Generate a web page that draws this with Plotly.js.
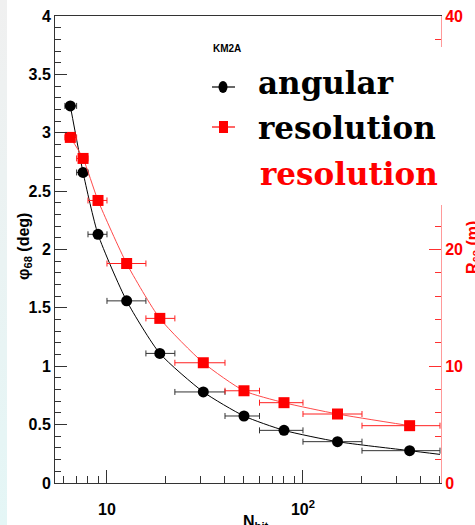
<!DOCTYPE html>
<html>
<head>
<meta charset="utf-8">
<script src="https://cdn.plot.ly/plotly-3.0.1.min.js"></script>
<style>
  html, body { margin: 0; padding: 0; width: 475px; height: 525px; overflow: hidden; background: #ffffff; }
  #strip { position: absolute; left: 0; top: 0; width: 7px; height: 525px;
           background: linear-gradient(#f0f0f0, #e4f6f6); }
  #chart { position: absolute; left: 0; top: 0; width: 475px; height: 525px; }
</style>
</head>
<body>
<div id="strip"></div>
<div id="chart"></div>
<script>
// ---- data ----
const nHit      = [6.5, 7.55, 9.0, 12.6, 18.6, 31, 50, 80, 150, 350];
const binLow    = [6.1, 7.0, 8.0, 10.0, 15.8, 22.2, 40, 60, 100, 200];
const binHigh   = [7.0, 8.0, 10.0, 15.8, 22.2, 40, 60, 100, 200, 500];
const phi68     = [3.23, 2.66, 2.13, 1.56, 1.11, 0.78, 0.574, 0.451, 0.354, 0.277];
const r68       = [29.6, 27.8, 24.2, 18.8, 14.1, 10.3, 7.9, 6.88, 5.91, 4.91];
const fitTailX  = [500];
const fitTailY  = [0.245];
const xTickVals = [10, 100];
const xTickText = ['10', '10<sup>2</sup>'];
const xMinorVals = [6, 7, 8, 9, 20, 30, 40, 50, 60, 70, 80, 90, 200, 300, 400, 500];

const errPlus  = binHigh.map((h, i) => h - nHit[i]);
const errMinus = binLow.map((l, i) => nHit[i] - l);

// layout geometry helpers (pixel -> paper) for decorations
const L = 55, R = 441, T = 16, B = 483;
const px = v => (v - L) / (R - L);
const py = v => (B - v) / (B - T);

const narrow = 'Liberation Sans Narrow, Liberation Sans, Arial, sans-serif';
const serif = 'DejaVu Serif, serif';

const traces = [
  { x: nHit.concat(fitTailX), y: phi68.concat(fitTailY), mode: 'lines', type: 'scatter',
    line: { color: '#000000', width: 1, shape: 'spline', smoothing: 0.6 }, hoverinfo: 'skip', showlegend: false },
  { x: nHit, y: r68, yaxis: 'y2', mode: 'lines', type: 'scatter',
    line: { color: '#ff4a4a', width: 1, shape: 'spline', smoothing: 0.6 }, hoverinfo: 'skip', showlegend: false },
  { x: nHit, y: phi68, mode: 'markers', type: 'scatter', name: 'angular resolution',
    marker: { symbol: 'circle', size: 11, color: '#000000' },
    error_x: { type: 'data', symmetric: false, array: errPlus, arrayminus: errMinus,
               color: '#333333', thickness: 1, width: 3 }, showlegend: false },
  { x: nHit, y: r68, yaxis: 'y2', mode: 'markers', type: 'scatter', name: 'core resolution',
    marker: { symbol: 'square', size: 11, color: '#ff0000' },
    error_x: { type: 'data', symmetric: false, array: errPlus, arrayminus: errMinus,
               color: '#ff2020', thickness: 1, width: 3 }, showlegend: false }
];

const shapes = [
  // white legend box covering the right axis
  { type: 'rect', xref: 'paper', yref: 'paper', x0: px(245), x1: px(475), y0: py(205), y1: py(47),
    fillcolor: '#ffffff', line: { width: 0 }, layer: 'above' },
  // legend key: black circle with bar
  { type: 'line', xref: 'paper', yref: 'paper', x0: px(212), x1: px(235), y0: py(87), y1: py(87),
    line: { color: '#000000', width: 1.2 }, layer: 'above' },
  { type: 'circle', xref: 'paper', yref: 'paper', x0: px(218.5), x1: px(227.5), y0: py(93), y1: py(81),
    fillcolor: '#000000', line: { width: 0 }, layer: 'above' },
  // legend key: red square with bar
  { type: 'line', xref: 'paper', yref: 'paper', x0: px(212), x1: px(235), y0: py(127), y1: py(127),
    line: { color: '#ff0000', width: 1.2 }, layer: 'above' },
  { type: 'rect', xref: 'paper', yref: 'paper', x0: px(219), x1: px(228), y0: py(133), y1: py(121),
    fillcolor: '#ff0000', line: { width: 0 }, layer: 'above' }
];

const annotations = [
  { text: 'KM2A', xref: 'paper', yref: 'paper', x: px(211), y: py(49), xanchor: 'left', yanchor: 'middle',
    showarrow: false, font: { family: narrow, size: 10, weight: 'bold', color: '#000' } },
  { text: 'angular', xref: 'paper', yref: 'paper', x: px(256), y: py(83), xanchor: 'left', yanchor: 'middle',
    showarrow: false, font: { family: serif, size: 31, weight: 'bold', color: '#000' } },
  { text: 'resolution', xref: 'paper', yref: 'paper', x: px(256), y: py(128), xanchor: 'left', yanchor: 'middle',
    showarrow: false, font: { family: serif, size: 31, weight: 'bold', color: '#000' } },
  { text: 'resolution', xref: 'paper', yref: 'paper', x: px(258), y: py(174), xanchor: 'left', yanchor: 'middle',
    showarrow: false, font: { family: serif, size: 31, weight: 'bold', color: '#ff0000' } },
  { text: 'φ<sub>68</sub> (deg)', xref: 'paper', yref: 'paper', x: px(25), y: py(247), textangle: -90,
    xanchor: 'center', yanchor: 'middle', showarrow: false,
    font: { family: narrow, size: 16, weight: 'bold', color: '#000' } },
  { text: 'R<sub>68</sub> (m)', xref: 'paper', yref: 'paper', x: px(473), y: py(248), textangle: -90,
    xanchor: 'center', yanchor: 'middle', showarrow: false,
    font: { family: narrow, size: 16, weight: 'bold', color: '#ff0000' } },
  { text: 'N<sub>hit</sub>', xref: 'paper', yref: 'paper', x: px(241), y: py(511), xanchor: 'left', yanchor: 'top',
    showarrow: false, font: { family: narrow, size: 16, weight: 'bold', color: '#000' } }
];

const layout = {
  width: 475, height: 525,
  margin: { l: L, r: 475 - R, t: T, b: 525 - B, pad: 0 },
  paper_bgcolor: 'rgba(0,0,0,0)', plot_bgcolor: 'rgba(0,0,0,0)',
  showlegend: false,
  xaxis: {
    type: 'log', range: [Math.log10(5.43), Math.log10(506)],
    showline: true, linecolor: '#333333', linewidth: 1, mirror: true,
    ticks: 'inside', ticklen: 13, tickcolor: '#333333', tickvals: xTickVals, ticktext: xTickText,
    ticklabelstandoff: 12,
    minor: { ticks: 'inside', ticklen: 7, tickcolor: '#333333', tickvals: xMinorVals, showgrid: false },
    showgrid: false, zeroline: false,
    tickfont: { family: narrow, size: 16, weight: 'bold', color: '#000' }
  },
  yaxis: {
    range: [0, 4], dtick: 0.5, tick0: 0,
    showline: true, linecolor: '#333333', linewidth: 1,
    ticks: 'inside', ticklen: 12, tickcolor: '#333333',
    minor: { ticks: 'inside', ticklen: 6, dtick: 0.1, tickcolor: '#333333', showgrid: false },
    showgrid: false, zeroline: false,
    tickfont: { family: narrow, size: 16, weight: 'bold', color: '#000' }
  },
  yaxis2: {
    overlaying: 'y', side: 'right', range: [0, 40], dtick: 10, tick0: 0,
    showline: true, linecolor: '#ff9a9a', linewidth: 1,
    ticks: 'inside', ticklen: 12, tickcolor: '#ff3030',
    minor: { ticks: 'inside', ticklen: 6, dtick: 2, tickcolor: '#ff3030', showgrid: false },
    showgrid: false, zeroline: false,
    tickfont: { family: narrow, size: 16, weight: 'bold', color: '#ff0000' }
  },
  shapes: shapes,
  annotations: annotations
};

Plotly.newPlot('chart', traces, layout, { staticPlot: true, displayModeBar: false });
</script>
</body>
</html>
